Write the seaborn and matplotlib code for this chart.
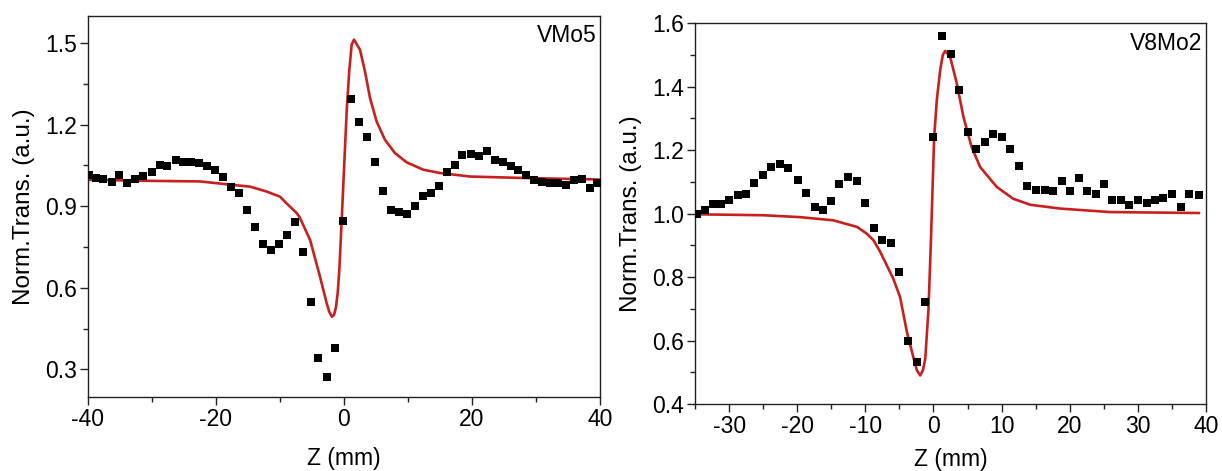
import numpy as np
import pandas as pd
import matplotlib
matplotlib.use("Agg")
import matplotlib.pyplot as plt
from matplotlib.ticker import MultipleLocator, FormatStrFormatter
import seaborn as sns

# ---- VMo5 (left panel) ----
vmo5_z = [-39.8, -38.75, -37.6, -36.3, -35.1, -33.9, -32.6, -31.4, -30.0, -28.8, -27.6, -26.3, -25.1,
          -23.9, -22.6, -21.4, -20.1, -18.9, -17.6, -16.4, -15.2, -13.9, -12.6, -11.4, -10.1, -8.9,
          -7.7, -6.4, -5.2, -4.0, -2.6, -1.35, -0.15, 1.1, 2.35, 3.65, 4.85, 6.15, 7.4, 8.6, 9.8,
          11.1, 12.4, 13.6, 14.9, 16.15, 17.3, 18.5, 19.8, 21.1, 22.3, 23.6, 24.8, 26.05, 27.2, 28.5,
          29.7, 31.0, 32.2, 33.5, 34.7, 35.9, 37.2, 38.5, 39.6]
vmo5_t = [1.015, 1.002, 1.0, 0.99, 1.015, 0.985, 1.0, 1.01, 1.027, 1.052, 1.048, 1.07, 1.062,
          1.062, 1.058, 1.046, 1.034, 1.009, 0.97, 0.948, 0.887, 0.825, 0.76, 0.739, 0.76, 0.793,
          0.841, 0.731, 0.549, 0.341, 0.273, 0.38, 0.846, 1.295, 1.211, 1.154, 1.062, 0.956, 0.887,
          0.878, 0.871, 0.902, 0.939, 0.948, 0.975, 1.024, 1.052, 1.089, 1.092, 1.083, 1.101, 1.07,
          1.062, 1.048, 1.034, 1.015, 0.997, 0.99, 0.987, 0.985, 0.979, 0.997, 1.0, 0.966, 0.987]
vmo5_fit_z = [-40, -30, -22.5, -17.3, -14.7, -12.1, -10.0, -9.0, -7.4, -6.9, -5.3, -3.75, -2.7, -2.3,
              -1.9, -1.56, -1.25, -0.99, -0.73, -0.36, 0.0, 0.42, 0.83, 1.2, 1.56, 2.5, 3.28, 4.06, 5.1,
              6.4, 7.97, 9.8, 12.4, 15.0, 19.7, 27.5, 40]
vmo5_fit_t = [0.997, 0.993, 0.991, 0.978, 0.972, 0.954, 0.935, 0.911, 0.875, 0.858, 0.776, 0.641, 0.543,
              0.512, 0.494, 0.50, 0.53, 0.58, 0.666, 0.85, 1.034, 1.25, 1.40, 1.494, 1.512, 1.475, 1.395,
              1.298, 1.211, 1.144, 1.095, 1.061, 1.034, 1.022, 1.009, 1.004, 0.998]

# ---- V8Mo2 (right panel) ----
v8mo2_z = [-34.7, -33.6, -32.4, -31.2, -30.0, -28.7, -27.5, -26.3, -25.0, -23.8, -22.5, -21.3, -19.9,
           -18.7, -17.4, -16.2, -15.0, -13.8, -12.5, -11.2, -10.0, -8.7, -7.5, -6.2, -5.0, -3.75, -2.45,
           -1.3, -0.04, 1.3, 2.55, 3.8, 5.0, 6.26, 7.6, 8.8, 10.07, 11.3, 12.6, 13.8, 15.0, 16.3, 17.5,
           18.8, 20.0, 21.3, 22.5, 23.8, 25.0, 26.2, 27.5, 28.7, 30.0, 31.3, 32.5, 33.7, 35.0, 36.3,
           37.5, 38.9]
v8mo2_t = [1.0, 1.01, 1.029, 1.029, 1.042, 1.058, 1.063, 1.097, 1.121, 1.147, 1.156, 1.144, 1.105,
           1.065, 1.021, 1.013, 1.039, 1.095, 1.114, 1.102, 1.032, 0.955, 0.918, 0.907, 0.816, 0.60,
           0.532, 0.721, 1.242, 1.559, 1.503, 1.389, 1.257, 1.205, 1.226, 1.252, 1.242, 1.205, 1.149,
           1.087, 1.076, 1.076, 1.071, 1.102, 1.071, 1.112, 1.071, 1.063, 1.092, 1.042, 1.042, 1.028,
           1.042, 1.033, 1.042, 1.050, 1.063, 1.021, 1.063, 1.060]
v8mo2_fit_z = [-35, -25, -19.6, -14.7, -11.2, -9.8, -8.8, -7.8, -5.9, -4.9, -3.9, -2.9, -2.43, -1.95,
               -1.55, -1.2, -0.73, -0.38, 0.1, 0.5, 0.98, 1.37, 1.72, 2.45, 3.43, 4.4, 5.6, 6.85, 9.3,
               11.7, 14.2, 18.6, 25.9, 39]
v8mo2_fit_t = [0.998, 0.995, 0.989, 0.979, 0.958, 0.937, 0.916, 0.879, 0.795, 0.737, 0.627, 0.543, 0.506,
               0.49, 0.506, 0.543, 0.70, 0.91, 1.24, 1.36, 1.452, 1.50, 1.513, 1.494, 1.41, 1.305, 1.21,
               1.147, 1.084, 1.047, 1.028, 1.016, 1.005, 1.002]

panel_labels = ["VMo5", "V8Mo2"]
x_label = "Z (mm)"
y_label = "Norm.Trans. (a.u.)"

sns.set_style("ticks")
plt.rcParams['font.family'] = ['Liberation Sans', 'DejaVu Sans']
plt.rcParams['axes.unicode_minus'] = False
plt.rcParams['text.color'] = 'black'
plt.rcParams['axes.labelcolor'] = 'black'
plt.rcParams['xtick.color'] = 'black'
plt.rcParams['ytick.color'] = 'black'
FS = 16.5
RED = "#c8201e"
SPINE = "#222222"

fig = plt.figure(figsize=(12.22, 4.71), dpi=100)
ax1 = fig.add_axes([88 / 1222, 1 - 396.7 / 471, 512 / 1222, 381 / 471])
ax2 = fig.add_axes([695 / 1222, 1 - 404 / 471, 511 / 1222, 380.7 / 471])

panels = [
    (ax1, vmo5_z, vmo5_t, vmo5_fit_z, vmo5_fit_t, (-40, 40), (0.2, 1.6), 20, 10, 12),
    (ax2, v8mo2_z, v8mo2_t, v8mo2_fit_z, v8mo2_fit_t, (-35, 40), (0.4, 1.6), 10, 5, 7),
]

for i, (ax, z, t, fz, ft, xl, yl, xmaj, xmin, xpad) in enumerate(panels):
    sns.scatterplot(x=z, y=t, ax=ax, marker='s', s=34, color='black', linewidth=0, zorder=3)
    sns.lineplot(x=fz, y=ft, ax=ax, color=RED, lw=1.9, sort=True, zorder=2)
    ax.set_xlim(*xl)
    ax.set_ylim(*yl)
    ax.xaxis.set_major_locator(MultipleLocator(xmaj))
    ax.xaxis.set_minor_locator(MultipleLocator(xmin))
    if i == 0:
        ax.set_yticks([0.3, 0.6, 0.9, 1.2, 1.5])
        ax.set_yticks([0.45, 0.75, 1.05, 1.35], minor=True)
    else:
        ax.yaxis.set_major_locator(MultipleLocator(0.2))
        ax.yaxis.set_minor_locator(MultipleLocator(0.1))
    ax.yaxis.set_major_formatter(FormatStrFormatter('%.1f'))
    ax.tick_params(axis='both', which='major', direction='out', length=6, width=1,
                   labelsize=FS, pad=2, color=SPINE, labelcolor='black', top=False, right=False)
    ax.tick_params(axis='both', which='minor', direction='out', length=3.5, width=1,
                   color=SPINE, top=False, right=False)
    for sp in ax.spines.values():
        sp.set_visible(True)
        sp.set_color(SPINE)
        sp.set_linewidth(1.0)
    ax.set_xlabel(x_label, fontsize=FS, labelpad=xpad, color='black')
    ax.set_ylabel(y_label, fontsize=17.5, labelpad=7, color='black')
    ax.text(0.993, 0.978, panel_labels[i], transform=ax.transAxes, ha='right', va='top',
            fontsize=FS, color='black')

fig.savefig("out.png", dpi=100)
